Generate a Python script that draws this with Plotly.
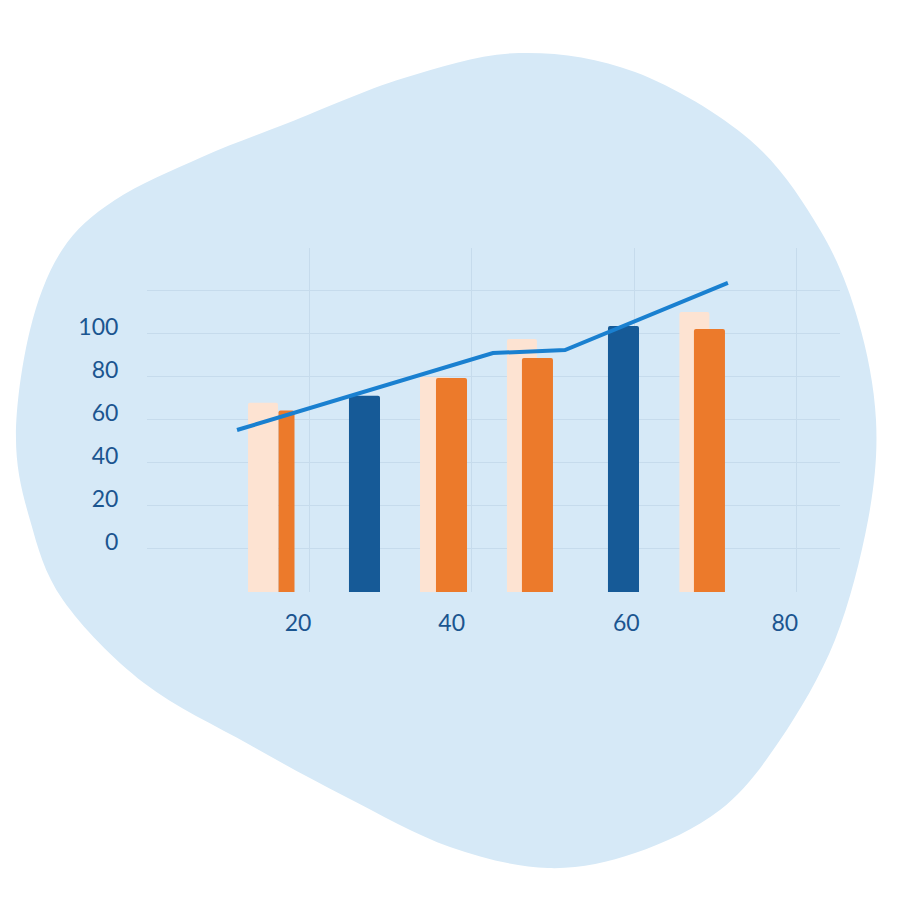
import plotly.graph_objects as go

# ---- data ----
peach_x = [14.28, 35.45, 46.15, 67.38]
peach_y = [87.8, 99.7, 117.3, 129.8]
orange_x = [17.17, 37.48, 48.06, 69.23]
orange_y = [84.1, 99.2, 108.5, 121.9]
blue_x = [26.77, 58.65]
blue_y = [91.0, 123.3]
line_x = [11.08, 42.58, 51.45, 71.5]
line_y = [75.1, 110.8, 112.2, 143.3]

x_tick_pos = [18.6, 37.5, 59.0, 78.5]
x_tick_text = ["20", "40", "60", "80"]
y_tick_vals = [0, 20, 40, 60, 80, 100]

# background blob outline (screen pixels)
blob = [(519, 53), (635, 72), (750, 140), (820, 230), (858, 320), (876, 420),
        (868, 520), (835, 640), (780, 740), (720, 810), (635, 853), (548, 868),
        (450, 847), (346, 797), (250, 745), (144, 683), (63, 600), (30, 520),
        (16, 437), (30, 330), (62, 250), (115, 200), (202, 157), (288, 123),
        (404, 78)]

TEXT = "#1b5590"
GRID = "#c6dbec"
W = 884      # page body has an 8px margin
OFF = 8


def fx(px):
    return (px - OFF) / W


def fy(py):
    return 1 - (py - OFF) / W


def blob_path(pts):
    # closed catmull-rom -> cubic bezier, in paper coords
    p = [(fx(x), fy(y)) for x, y in pts]
    n = len(p)
    d = "M {:.4f},{:.4f} ".format(*p[0])
    for i in range(n):
        p0, p1, p2, p3 = p[i - 1], p[i], p[(i + 1) % n], p[(i + 2) % n]
        c1 = (p1[0] + (p2[0] - p0[0]) / 6, p1[1] + (p2[1] - p0[1]) / 6)
        c2 = (p2[0] - (p3[0] - p1[0]) / 6, p2[1] - (p3[1] - p1[1]) / 6)
        d += "C {:.4f},{:.4f} {:.4f},{:.4f} {:.4f},{:.4f} ".format(*c1, *c2, *p2)
    return d + "Z"


fig = go.Figure()
fig.add_trace(go.Bar(x=peach_x, y=peach_y, width=3.69, marker=dict(color="#fde3d2", line_width=0)))
fig.add_trace(go.Bar(x=orange_x, y=orange_y, width=[1.97, 3.82, 3.82, 3.82],
                     marker=dict(color="#ec7a2b", line_width=0)))
fig.add_trace(go.Bar(x=blue_x, y=blue_y, width=3.82, marker=dict(color="#165a97", line_width=0)))
fig.add_trace(go.Scatter(x=line_x, y=line_y, mode="lines",
                         line=dict(color="#1a80d0", width=4)))
# invisible trace to carry the label axes
fig.add_trace(go.Scatter(x=[None], y=[None], xaxis="x2", yaxis="y2", showlegend=False))

xdom = [fx(147), fx(840)]
ydom = [fy(592), fy(248)]

fig.update_layout(
    width=W, height=W,
    margin=dict(l=0, r=0, t=0, b=0),
    paper_bgcolor="white",
    plot_bgcolor="rgba(0,0,0,0)",
    barmode="overlay",
    barcornerradius=2,
    showlegend=False,
    font=dict(family="Lato", color=TEXT, size=23),
    xaxis=dict(domain=xdom, range=[0, 85.3], tick0=0, dtick=20, showgrid=True,
               gridcolor=GRID, gridwidth=1, zeroline=False, showticklabels=False,
               fixedrange=True),
    yaxis=dict(domain=ydom, range=[0, 159.5], tick0=0, dtick=20, showgrid=True,
               gridcolor=GRID, gridwidth=1, zeroline=False, showticklabels=False,
               fixedrange=True),
    xaxis2=dict(overlaying="x", anchor="y2", domain=xdom, range=[0, 85.3], side="bottom",
                tickvals=x_tick_pos, ticktext=x_tick_text, showgrid=False, zeroline=False,
                ticks="outside", ticklen=10, tickcolor="rgba(0,0,0,0)",
                tickfont=dict(size=23, color=TEXT)),
    yaxis2=dict(overlaying="y", anchor="x2", domain=ydom, range=[-23, 136.5], side="left",
                tickvals=y_tick_vals, showgrid=False, zeroline=False,
                ticks="outside", ticklen=23, tickcolor="rgba(0,0,0,0)",
                tickfont=dict(size=23, color=TEXT)),
    shapes=[dict(type="path", path=blob_path(blob), xref="paper", yref="paper",
                 fillcolor="#d6e9f7", line=dict(width=0), layer="below")],
)

fig.write_html("out.html", config={"displayModeBar": False})
